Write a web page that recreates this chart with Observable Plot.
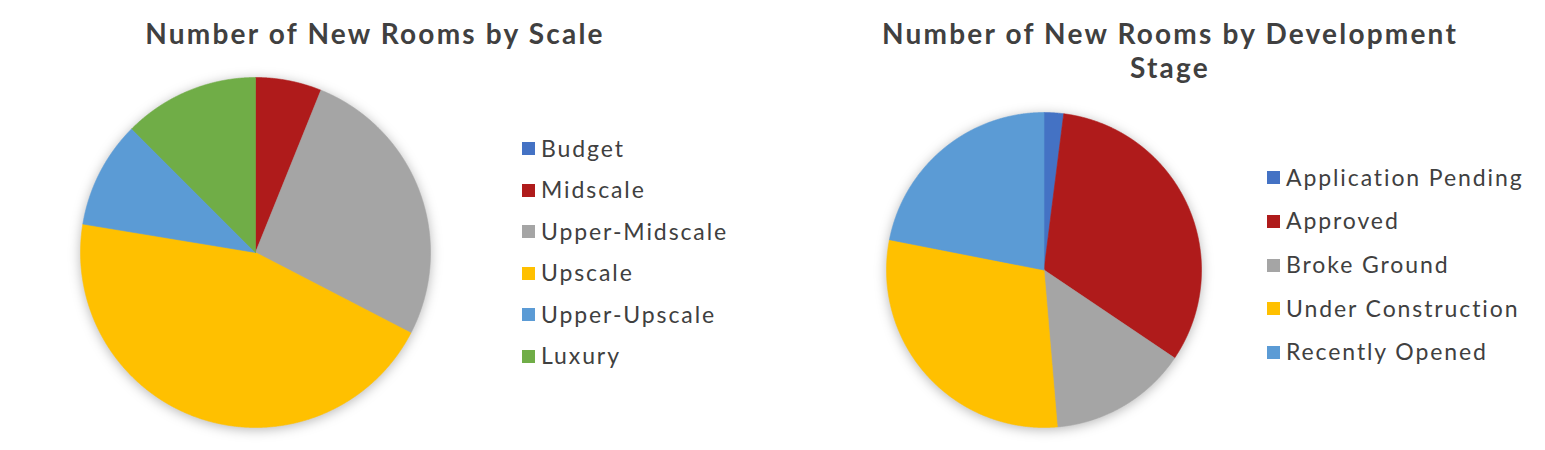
<!DOCTYPE html>
<html><head><meta charset="utf-8">
<script src="https://cdn.jsdelivr.net/npm/d3@7"></script>
<script src="https://cdn.jsdelivr.net/npm/@observablehq/plot@0.6"></script>
<style>
body{margin:0;background:#fff;font-family:Lato,"Open Sans",sans-serif;color:#404040}
#wrap{position:relative;width:1545px;height:450px;overflow:hidden;background:#fff}
.title{position:absolute;font-weight:700;font-size:28px;line-height:34px;text-align:center;letter-spacing:2.2px;color:#404040;transform:translateX(-50%);white-space:nowrap}
.item{position:absolute;display:flex;align-items:center;height:30px;font-size:23px;letter-spacing:1.9px;color:#404040;white-space:nowrap}
.sw{width:13px;height:13px;flex:none}
.pie{position:absolute}
.pie svg{overflow:visible;max-width:none}
</style>
</head><body>
<div id="wrap"></div>
<script>
// ---- data ----
const scaleCategories = ["Budget","Midscale","Upper-Midscale","Upscale","Upper-Upscale","Luxury"];
const scaleValues = [0, 6.1, 26.5, 45.0, 9.9, 12.5];
const scaleColors = ["#4472C4","#AF1B1B","#A5A5A5","#FFC000","#5B9BD5","#70AD47"];

const stageCategories = ["Application Pending","Approved","Broke Ground","Under Construction","Recently Opened"];
const stageValues = [2.0, 32.4, 14.2, 29.4, 21.9];
const stageColors = ["#4472C4","#AF1B1B","#A5A5A5","#FFC000","#5B9BD5"];

const titles = ["Number of New Rooms by Scale", "Number of New Rooms by Development<br>Stage"];

// ---- helpers ----
const wrap = document.getElementById("wrap");

function slicePoints(cats, vals){
  const arcs = d3.pie().sort(null).value(d => d)(vals);
  const pts = [];
  arcs.forEach((a, i) => {
    const span = a.endAngle - a.startAngle;
    if (span <= 0) return;
    const key = cats[i];
    pts.push({key, x: 0, y: 0});
    const n = Math.max(2, Math.ceil(span / 0.004));
    for (let k = 0; k <= n; k++) {
      const t = a.startAngle + span * k / n;
      pts.push({key, x: Math.sin(t), y: Math.cos(t)});
    }
    pts.push({key, x: 0, y: 0});
  });
  return pts;
}

function pie(cats, vals, colors, cx, cy, r){
  const m = 24;
  const size = 2 * (r + m);
  const chart = Plot.plot({
    width: size, height: size, margin: m,
    x: {domain: [-1, 1], axis: null},
    y: {domain: [-1, 1], axis: null},
    color: {domain: cats, range: colors},
    marks: [
      Plot.line(slicePoints(cats, vals), {x: "x", y: "y", z: "key", fill: "key", stroke: "key", strokeWidth: 0.6, curve: "linear"})
    ]
  });
  const g = chart.querySelector("g[aria-label=line]");
  if (g) g.style.filter = "drop-shadow(0px 2px 6px rgba(0,0,0,0.28))";
  const d = document.createElement("div");
  d.className = "pie";
  d.style.left = (cx - size / 2) + "px";
  d.style.top = (cy - size / 2) + "px";
  d.appendChild(chart);
  wrap.appendChild(d);
}

function legend(cats, colors, x, y0, dy){
  cats.forEach((c, i) => {
    const it = document.createElement("div");
    it.className = "item";
    it.style.left = x + "px";
    it.style.top = (y0 + i * dy - 15) + "px";
    const sw = document.createElement("span");
    sw.className = "sw";
    sw.style.background = colors[i];
    const tx = document.createElement("span");
    tx.textContent = c;
    tx.style.marginLeft = "6px";
    tx.style.marginTop = "-2px";
    it.appendChild(sw); it.appendChild(tx);
    wrap.appendChild(it);
  });
}

function title(html, cx, top){
  const t = document.createElement("div");
  t.className = "title";
  t.innerHTML = html;
  t.style.left = cx + "px";
  t.style.top = top + "px";
  wrap.appendChild(t);
}

// ---- build ----
title(titles[0], 375, 16);
title(titles[1], 1170, 16);
pie(scaleCategories, scaleValues, scaleColors, 255, 252, 175);
pie(stageCategories, stageValues, stageColors, 1043.5, 269, 157.5);
legend(scaleCategories, scaleColors, 522, 148.7, 41.5);
legend(stageCategories, stageColors, 1267, 177.8, 43.6);
</script>
</body></html>
